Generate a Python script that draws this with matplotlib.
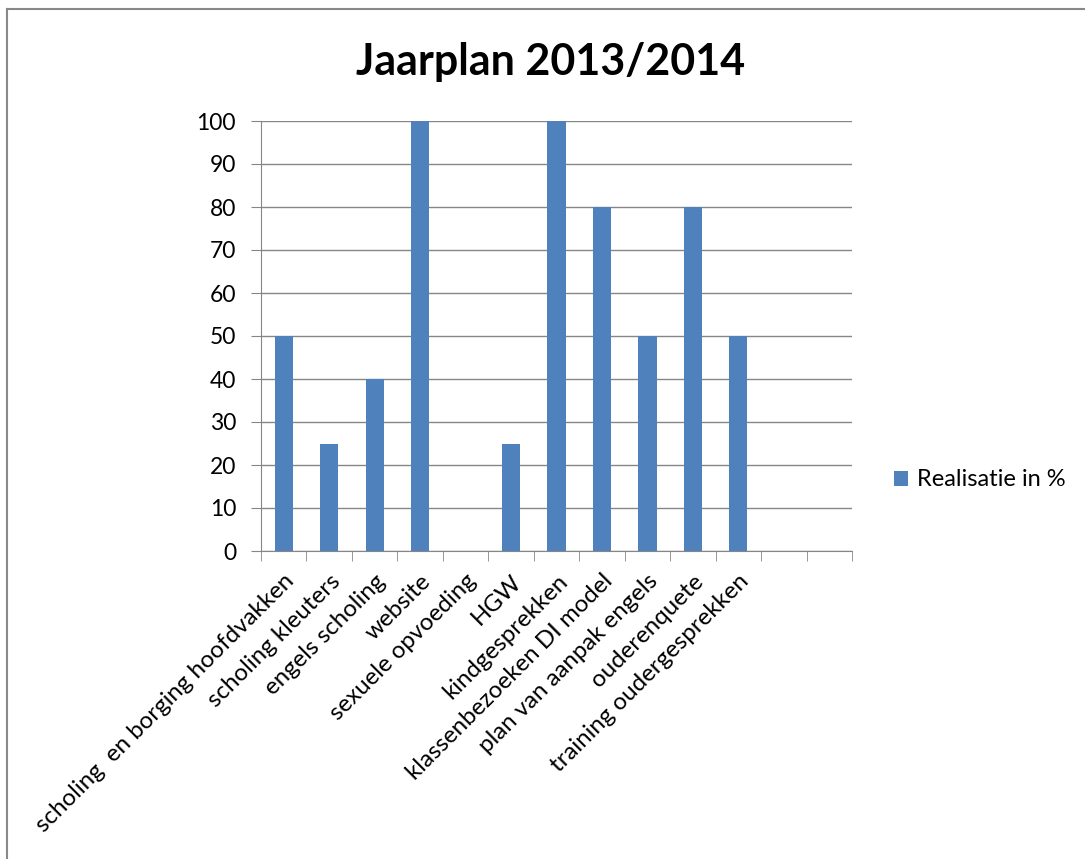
import numpy as np
import matplotlib
matplotlib.use("Agg")
import matplotlib.pyplot as plt
from matplotlib.lines import Line2D

# ---------- Data ----------
categories = [
    "scholing  en borging hoofdvakken",
    "scholing kleuters",
    "engels scholing",
    "website",
    "sexuele opvoeding",
    "HGW",
    "kindgesprekken",
    "klassenbezoeken DI model",
    "plan van aanpak engels",
    "ouderenquete",
    "training oudergesprekken",
    "",
    "",
]
realisatie = [50, 25, 40, 100, 0, 25, 100, 80, 50, 80, 50, np.nan, np.nan]
yticks = list(range(0, 101, 10))

plt.rcParams['font.family'] = ['Lato', 'DejaVu Sans']

fig = plt.figure(figsize=(10.85, 8.59), dpi=100)
ax = fig.add_axes([261/1085, 1 - 551/859, 591/1085, 430/859])

x = np.arange(len(categories))
ax.bar(x, realisatie, width=0.4, color='#4F81BD', label='Realisatie in %', zorder=3)

ax.set_xlim(-0.5, len(categories) - 0.5)
ax.set_ylim(0, 100)
ax.set_yticks(yticks)
ax.tick_params(axis='y', labelsize=16.5, length=7, color='#868686', pad=11)
ax.yaxis.grid(True, color='#868686', lw=1, zorder=0)

ax.set_xticks(x)
ax.set_xticklabels(categories, rotation=45, ha='right', rotation_mode='anchor', fontsize=17.3)
ax.tick_params(axis='x', length=0, pad=14)
ax.set_xticks(np.arange(-0.5, len(categories)), minor=True)
ax.tick_params(axis='x', which='minor', length=7, color='#868686')

for s in ['top', 'right']:
    ax.spines[s].set_visible(False)
for s in ['left', 'bottom']:
    ax.spines[s].set_color('#868686')

fig.suptitle("Jaarplan 2013/2014", fontsize=31, fontweight='bold',
             x=551/1085, y=1 - 62/859, va='center')

fig.legend(loc='center left', bbox_to_anchor=(873/1085, 1 - 480/859), frameon=False,
           fontsize=17, handlelength=0.6, handleheight=0.6, handletextpad=0.35)

# figure frame (top and left visible)
fig.add_artist(Line2D([7/1085, 7/1085], [0, 1 - 9/859], transform=fig.transFigure, color='#888888', lw=1.5))
fig.add_artist(Line2D([7/1085, 1], [1 - 9/859, 1 - 9/859], transform=fig.transFigure, color='#888888', lw=1.5))

fig.savefig("out.png", dpi=100)
